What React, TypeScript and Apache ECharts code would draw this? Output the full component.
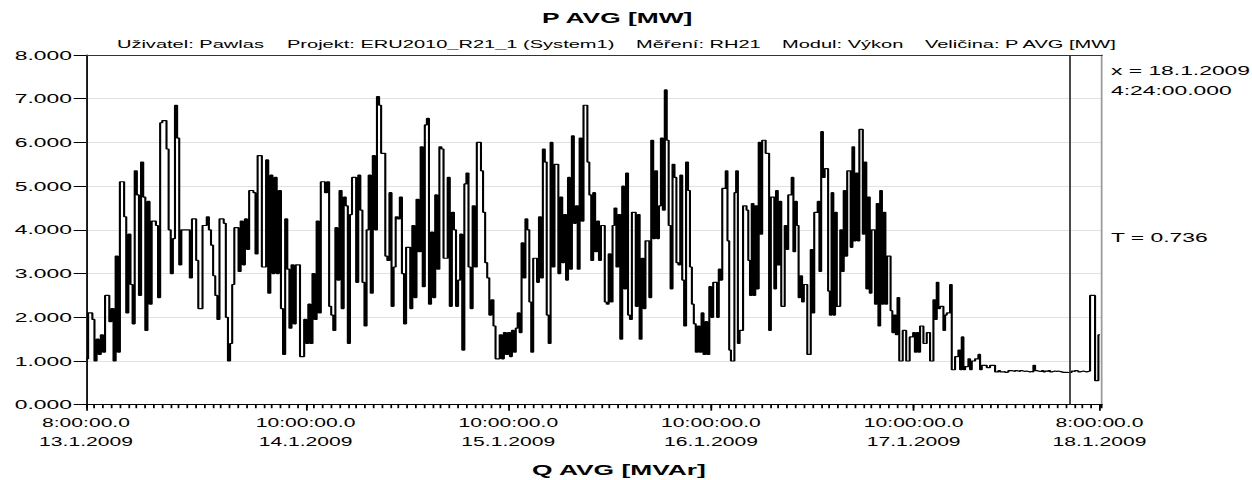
import React, { useEffect, useRef } from "react";
import * as echarts from "echarts";

// ---- layout (chart is drawn narrow and stretched horizontally, like the reference) ----
const W = 712;
const H = 480;
const SX = 1252 / W;
const FONT = '"Liberation Sans", Arial, Helvetica, sans-serif';

// ---- texts ----
const titleText = "P AVG [MW]";
const xAxisTitle = "Q AVG [MVAr]";
const subtitleParts = [
  "Uživatel: Pawlas",
  "Projekt: ERU2010_R21_1 (System1)",
  "Měření: RH21",
  "Modul: Výkon",
  "Veličina: P AVG [MW]",
];
const subtitleXs = [66.5, 163.2, 361.7, 444.7, 526.0];

// ---- axis ticks (hours since 13.1.2009 8:00) ----
const xTickHours = [0, 26, 50, 74, 98, 120];
const xTickTimes = ["8:00:00.0", "10:00:00.0", "10:00:00.0", "10:00:00.0", "10:00:00.0", "8:00:00.0"];
const xTickDates = ["13.1.2009", "14.1.2009", "15.1.2009", "16.1.2009", "17.1.2009", "18.1.2009"];
const xMax = 120.3;
const yMin = 0;
const yMax = 8;
const yStep = 1;

// ---- cursor ----
const cursorHour = 116.4;
const cursorDate = "18.1.2009";
const cursorTime = "4:24:00.000";
const cursorValue = "0.736";

// ---- P AVG values [MW], per time span ----
const spanBounds = [0, 25.34, 49.97, 74.72, 98.76, 107.64, 120.07];

const pSpanA = [1.05,2.1,2.1,1.95,1.0,1.5,1.15,1.6,1.2,2.5,2.5,1.9,2.2,1.0,3.4,1.2,5.1,5.1,4.3,2.1,
  3.9,2.75,1.85,5.35,4.8,2.5,5.55,4.75,1.7,4.65,2.3,4.2,4.2,4.1,2.45,6.45,6.5,6.5,5.85,4.0,
  3.0,3.8,6.85,6.1,3.2,4.0,4.0,4.0,4.0,2.9,4.25,4.25,3.3,2.2,2.2,4.1,4.1,4.3,4.0,3.65,
  2.95,2.5,1.95,4.25,4.25,4.15,2.0,1.0,1.4,2.75,4.05,4.05,3.05,4.2,3.2,4.25,3.55,4.9,4.9,4.85,
  3.45,5.7,5.7,3.15,3.15,5.6,2.55,5.25,3.0,5.2,3.0,4.9,2.2,1.15,4.25,3.1,1.75,3.2,1.85,3.2,3.2];

const pSpanB = [1.1,1.1,1.95,1.4,2.3,1.4,3.0,1.95,4.2,2.1,5.1,5.1,4.85,5.1,2.25,2.05,1.7,4.05,2.85,4.9,
  2.2,4.75,4.55,1.4,4.35,5.2,5.2,2.8,5.25,4.45,2.8,1.8,4.0,5.25,2.55,5.7,4.0,7.05,6.85,5.75,
  5.75,3.4,3.3,4.85,2.25,3.15,4.3,4.25,4.75,3.0,1.85,3.6,3.6,2.2,4.1,2.45,4.7,3.5,5.9,2.7,
  6.4,6.55,2.3,3.95,2.45,4.8,3.1,5.9,5.85,3.35,3.35,5.2,2.25,4.4,4.0,2.25,2.85,3.9,1.25,5.05,
  5.3,3.15,2.2,4.55,3.15,6.0,6.0,5.35,4.4,3.25,2.9,2.05,2.4,1.8,1.05,1.05,1.6,1.05,1.65,1.15];

const pSpanC = [1.65,1.1,1.7,1.2,1.75,2.1,1.65,3.7,2.9,4.25,4.0,2.35,1.2,3.35,3.35,2.8,4.3,2.9,5.85,5.55,
  2.05,1.4,6.0,3.15,5.5,5.5,3.0,4.75,3.25,4.35,2.85,5.2,3.1,6.15,4.15,4.55,3.1,6.1,4.2,6.85,
  6.85,5.55,4.8,3.3,4.85,3.5,4.2,3.3,4.1,4.1,2.35,2.3,3.45,2.35,4.1,4.5,3.15,4.35,1.5,5.0,
  2.65,5.3,2.05,1.95,4.4,4.4,2.25,4.35,1.5,3.35,2.2,3.75,3.75,2.45,6.05,3.8,5.35,3.8,4.55,6.1,
  4.45,7.2,6.05,4.1,2.65,5.5,5.2,3.25,3.2,5.25,2.85,1.8,5.55,4.9,3.15,2.3,1.85,1.2,1.8,1.2,
  2.1,1.15,1.9,1.15,2.7,2.0,2.8,2.8];

const pSpanD = [2.0,3.1,2.85,4.95,4.95,5.35,3.75,1.25,1.0,1.0,4.85,5.35,1.4,1.7,1.7,4.55,4.55,4.45,3.3,2.5,
  4.6,2.5,4.55,2.65,6.0,3.9,6.05,6.05,5.75,5.75,1.7,4.75,4.75,2.65,4.9,3.2,4.65,2.25,2.25,4.1,
  3.55,4.8,4.8,5.2,3.5,4.65,4.1,2.45,2.95,2.35,2.75,2.75,1.15,1.15,3.55,2.1,4.4,4.4,4.65,3.05,
  6.25,5.2,5.4,5.4,2.6,2.05,4.85,2.05,4.4,2.25,2.25,4.0,3.05,4.9,3.4,5.35,5.35,3.6,5.9,3.75,
  5.3,3.75,6.3,6.3,3.9,5.55,2.65,4.75,2.55,4.0,4.0,2.3,4.6,1.8,4.9,2.3,4.4,2.3,3.4,3.4,
  2.15,1.65,2.05,1.6,2.45,1.0,1.0,1.7,1.7,1.0,1.0,1.55,1.55,1.65,1.2,1.65,1.2];

const pSpanE = [1.8,1.8,1.4,1.4,1.65,1.65,1.0,1.0,2.4,1.95,2.8,2.2,2.25,2.25,1.7,2.05,2.1,2.1,2.75,0.8,
  0.8,1.1,1.1,1.25,0.8,1.55,0.8,0.87,0.87,1.05,0.8,1.0,1.0,1.05,1.05,1.15,0.8,0.9,0.9,0.9,
  0.85,0.85,0.9,0.9,0.9];

const pSpanF = [0.75,0.75,0.78,0.75,0.75,0.76,0.74,0.75,0.78,0.78,0.77,0.76,0.78,0.77,0.76,0.78,0.77,0.76,0.77,
  0.76,0.75,0.76,0.75,0.9,0.78,0.77,0.76,0.76,0.78,0.75,0.77,0.76,0.78,0.75,0.76,0.77,0.76,
  0.77,0.76,0.75,0.74,0.74,0.74,0.736,0.74,0.74,0.77,0.76,0.78,0.77,0.75,0.76,0.77,0.76,0.75,0.76,0.77,
  2.5,2.5,2.5,0.55,0.55,1.6];

const spans = [pSpanA, pSpanB, pSpanC, pSpanD, pSpanE, pSpanF];

function buildData(): [number, number][] {
  const out: [number, number][] = [];
  spans.forEach((vals, s) => {
    const t0 = spanBounds[s];
    const t1 = spanBounds[s + 1];
    const dt = (t1 - t0) / vals.length;
    vals.forEach((v, i) => out.push([t0 + i * dt, v]));
  });
  const last = spans[spans.length - 1];
  out.push([spanBounds[spanBounds.length - 1], last[last.length - 1]]);
  return out;
}

export default function App() {
  const ref = useRef<HTMLDivElement>(null);

  useEffect(() => {
    if (!ref.current) return;
    const chart = echarts.init(ref.current, undefined, { renderer: "svg", width: W, height: H });
    const gridLeft = 48.9;
    const gridRight = W - 626.7;
    const gridTop = 55;
    const gridBottom = H - 404.7;
    const textX = 631.8;

    const option: any = {
      animation: false,
      backgroundColor: "#ffffff",
      textStyle: { fontFamily: FONT },
      grid: { left: gridLeft, right: gridRight, top: gridTop, bottom: gridBottom, containLabel: false, show: false },
      xAxis: [
        {
          type: "value",
          min: 0,
          max: xMax,
          position: "bottom",
          axisLine: { show: true, onZero: false, lineStyle: { color: "#000", width: 1 } },
          axisTick: { show: true, customValues: xTickHours, length: 6, lineStyle: { color: "#000", width: 1 } },
          axisLabel: {
            show: true,
            customValues: xTickHours,
            formatter: (v: number) => {
              const i = xTickHours.indexOf(Math.round(v));
              return i >= 0 ? xTickTimes[i] + "\n" + xTickDates[i] : "";
            },
            margin: 8,
            fontSize: 12,
            lineHeight: 19.5,
            color: "#000",
            fontFamily: FONT,
          },
          splitLine: { show: false },
        },
        {
          type: "value",
          min: 0,
          max: xMax,
          interval: 1,
          position: "bottom",
          axisLine: { show: false, onZero: false },
          axisTick: { show: true, length: 3.5, lineStyle: { color: "#000", width: 1 } },
          axisLabel: { show: false },
          splitLine: { show: false },
        },
        {
          type: "value",
          min: 0,
          max: xMax,
          position: "top",
          axisLine: { show: true, onZero: false, lineStyle: { color: "#333", width: 1 } },
          axisTick: { show: false },
          axisLabel: { show: false },
          splitLine: { show: false },
        },
      ],
      yAxis: [
        {
          type: "value",
          min: yMin,
          max: yMax,
          interval: yStep,
          position: "left",
          axisLine: { show: true, onZero: false, lineStyle: { color: "#000", width: 1 } },
          axisTick: { show: true, length: 7, lineStyle: { color: "#000", width: 1 } },
          axisLabel: {
            formatter: (v: number) => v.toFixed(3),
            margin: 8,
            fontSize: 13,
            color: "#000",
            fontFamily: FONT,
          },
          splitLine: { show: true, lineStyle: { color: "#e2e2e2", width: 1 } },
        },
        {
          type: "value",
          min: yMin,
          max: yMax,
          position: "right",
          axisLine: { show: true, onZero: false, lineStyle: { color: "#9a9a9a", width: 1 } },
          axisTick: { show: false },
          axisLabel: { show: false },
          splitLine: { show: false },
        },
      ],
      series: [
        {
          type: "line",
          step: "end",
          data: buildData(),
          xAxisIndex: 0,
          yAxisIndex: 0,
          showSymbol: false,
          symbol: "none",
          lineStyle: { color: "#000", width: 1.2 },
          markLine: {
            silent: true,
            symbol: ["none", "none"],
            label: { show: false },
            lineStyle: { color: "#333", width: 1, type: "solid" },
            data: [{ xAxis: cursorHour }],
          },
        },
      ],
      graphic: [
        {
          type: "text",
          x: 351,
          y: 18,
          style: { text: titleText, font: `bold 15px ${FONT}`, fill: "#000", align: "center", verticalAlign: "middle", textAlign: "center", textVerticalAlign: "middle" },
        },
        ...subtitleParts.map((t, i) => ({
          type: "text",
          x: subtitleXs[i],
          y: 43.5,
          style: { text: t, font: `11.4px ${FONT}`, fill: "#000", align: "left", verticalAlign: "middle", textAlign: "left", textVerticalAlign: "middle" },
        })),
        {
          type: "text",
          x: 352,
          y: 470,
          style: { text: xAxisTitle, font: `bold 15px ${FONT}`, fill: "#000", align: "center", verticalAlign: "middle", textAlign: "center", textVerticalAlign: "middle" },
        },
        {
          type: "text",
          x: textX,
          y: 70,
          style: { text: "x = " + cursorDate, font: `13px ${FONT}`, fill: "#000", align: "left", verticalAlign: "middle", textAlign: "left", textVerticalAlign: "middle" },
        },
        {
          type: "text",
          x: textX,
          y: 90,
          style: { text: cursorTime, font: `13px ${FONT}`, fill: "#000", align: "left", verticalAlign: "middle", textAlign: "left", textVerticalAlign: "middle" },
        },
        {
          type: "text",
          x: textX,
          y: 237,
          style: { text: "T = " + cursorValue, font: `13px ${FONT}`, fill: "#000", align: "left", verticalAlign: "middle", textAlign: "left", textVerticalAlign: "middle" },
        },
      ],
    };
    chart.setOption(option);
    return () => chart.dispose();
  }, []);

  return (
    <div style={{ position: "absolute", left: 0, top: 0, width: 1252, height: H, overflow: "hidden", background: "#fff" }}>
      <div
        style={{
          position: "absolute",
          left: 0,
          top: 0,
          width: W,
          height: H,
          transform: `scaleX(${SX})`,
          transformOrigin: "0 0",
        }}
      >
        <div ref={ref} style={{ width: W, height: H }} />
      </div>
    </div>
  );
}
